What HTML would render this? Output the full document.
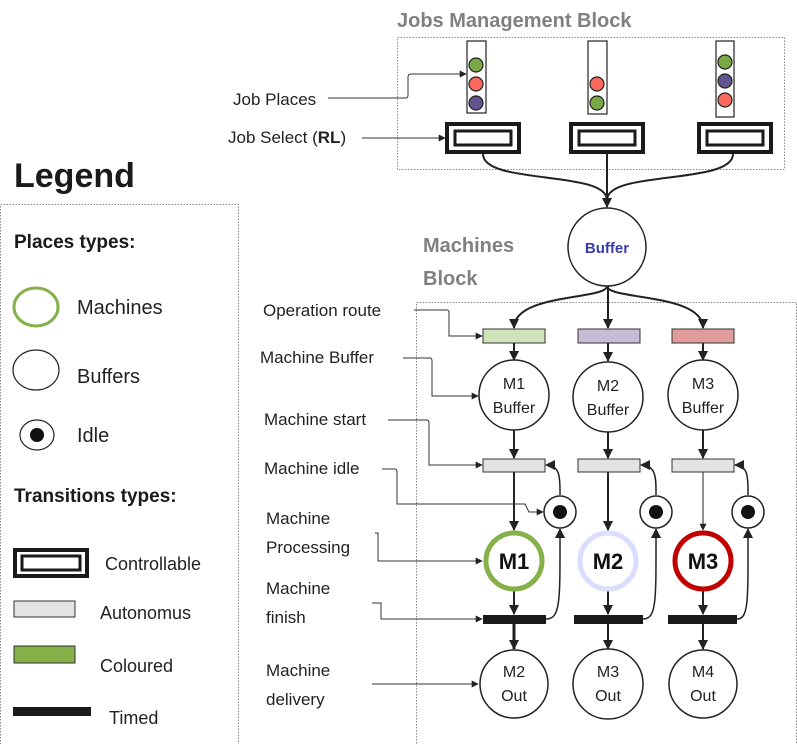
<!DOCTYPE html>
<html><head><meta charset="utf-8"><style>
html,body{margin:0;padding:0;background:#fff}
svg{display:block}
text{font-family:"Liberation Sans",sans-serif;}
</style></head><body>
<svg width="797" height="744" viewBox="0 0 797 744" xmlns="http://www.w3.org/2000/svg">
<defs>
<marker id="a" viewBox="0 0 10 10" refX="9" refY="5" markerUnits="userSpaceOnUse" markerWidth="10" markerHeight="10" orient="auto"><path d="M0,0L10,5L0,10z" fill="#222"/></marker>
<marker id="s" viewBox="0 0 10 10" refX="9" refY="5" markerUnits="userSpaceOnUse" markerWidth="7" markerHeight="7" orient="auto"><path d="M0,0L10,5L0,10z" fill="#222"/></marker>
</defs>
<!-- Jobs block -->
<text x="397" y="27" font-size="20" font-weight="bold" fill="#808080">Jobs Management Block</text>
<rect x="397.5" y="37.5" width="387" height="132" fill="none" stroke="#888" stroke-dasharray="1.5,1.5"/>
<g stroke="#222" stroke-width="1.2">
<rect x="467" y="41" width="19" height="72" fill="#fff"/>
<rect x="588" y="41" width="19" height="73" fill="#fff"/>
<rect x="716" y="41" width="18" height="76" fill="#fff"/>
<circle cx="476" cy="65" r="7" fill="#7aa844"/><circle cx="476" cy="84" r="7" fill="#fa6a5c"/><circle cx="476" cy="103" r="7" fill="#62558f"/>
<circle cx="597" cy="84" r="7" fill="#fa6a5c"/><circle cx="597" cy="103" r="7" fill="#7aa844"/>
<circle cx="725" cy="62" r="7" fill="#7aa844"/><circle cx="725" cy="81" r="7" fill="#62558f"/><circle cx="725" cy="100" r="7" fill="#fa6a5c"/>
</g>
<g fill="#fff" stroke="#1a1a1a">
<rect x="447" y="124" width="72" height="28" stroke-width="4"/><rect x="455" y="131" width="56" height="14" stroke-width="3"/>
<rect x="571" y="124" width="72" height="28" stroke-width="4"/><rect x="579" y="131" width="56" height="14" stroke-width="3"/>
<rect x="699" y="124" width="72" height="28" stroke-width="4"/><rect x="707" y="131" width="56" height="14" stroke-width="3"/>
</g>
<g fill="none" stroke="#222" stroke-width="2">
<path d="M483,154 C483,185 607,170 607,200" />
<path d="M733,154 C733,185 607,170 607,200" />
<path d="M607,154 L607,207" marker-end="url(#a)"/>
</g>
<circle cx="607" cy="247" r="39" fill="#fff" stroke="#222" stroke-width="1.5"/>
<text x="607" y="253" font-size="15" font-weight="bold" fill="#3b3bb0" text-anchor="middle">Buffer</text>
<text x="423" y="252" font-size="20" font-weight="bold" fill="#808080">Machines</text>
<text x="423" y="285" font-size="20" font-weight="bold" fill="#808080">Block</text>
<rect x="416.5" y="302.5" width="380" height="445" fill="none" stroke="#888" stroke-dasharray="1.5,1.5"/>
<g fill="none" stroke="#222" stroke-width="2">
<path d="M607,286 C607,300 514,293 514,328" marker-end="url(#a)"/>
<path d="M607,286 C607,300 703,293 703,328" marker-end="url(#a)"/>
<path d="M608,286 L608,328" marker-end="url(#a)"/>
</g>
<!-- colored transitions -->
<rect x="483" y="329" width="62" height="14" fill="#cfe2b8" stroke="#333"/>
<rect x="578" y="329" width="62" height="14" fill="#c5bcd6" stroke="#333"/>
<rect x="672" y="329" width="62" height="14" fill="#e29b9b" stroke="#333"/>
<g fill="none" stroke="#222" stroke-width="2">
<path d="M514,343 L514,360" marker-end="url(#a)"/>
<path d="M608,343 L608,361" marker-end="url(#a)"/>
<path d="M703,343 L703,360" marker-end="url(#a)"/>
<path d="M514,430 L514,458" marker-end="url(#a)"/>
<path d="M608,432 L608,458" marker-end="url(#a)"/>
<path d="M703,430 L703,458" marker-end="url(#a)"/>
<path d="M514,472 L514,530" marker-end="url(#a)"/>
<path d="M608,472 L608,530" marker-end="url(#a)"/>
<path d="M703,472 L703,530" stroke-width="1" marker-end="url(#s)"/>
<path d="M514,591 L514,614" marker-end="url(#a)"/>
<path d="M608,591 L608,614" marker-end="url(#a)"/>
<path d="M703,591 L703,614" marker-end="url(#a)"/>
<path d="M514,624 L514,649" stroke-width="3" marker-end="url(#a)"/>
<path d="M608,624 L608,649" marker-end="url(#a)"/>
<path d="M703,624 L703,649" marker-end="url(#a)"/>
</g>
<g fill="none" stroke="#222" stroke-width="1.5">
<path d="M546,619 C561,619 560,600 560,529" marker-end="url(#a)"/>
<path d="M643,619 C657,619 656,600 656,529" marker-end="url(#a)"/>
<path d="M737,619 C749,619 748,600 748,529" marker-end="url(#a)"/>
<path d="M560,495 C560,480 561,465 546,465" marker-end="url(#a)"/>
<path d="M656,495 C656,480 657,465 641,465" marker-end="url(#a)"/>
<path d="M748,495 C748,480 749,465 735,465" marker-end="url(#a)"/>
</g>
<g fill="#fff" stroke="#222" stroke-width="1.5">
<circle cx="514" cy="395" r="35"/><circle cx="608" cy="397" r="35"/><circle cx="703" cy="395" r="35"/>
<circle cx="514" cy="684" r="34"/><circle cx="608" cy="684" r="35"/><circle cx="703" cy="684" r="34"/>
<circle cx="560" cy="512" r="16"/><circle cx="656" cy="512" r="16"/><circle cx="748" cy="512" r="16"/>
</g>
<circle cx="560" cy="512" r="7" fill="#111"/><circle cx="656" cy="512" r="7" fill="#111"/><circle cx="748" cy="512" r="7" fill="#111"/>
<g font-size="16" fill="#222" text-anchor="middle">
<text x="514" y="389">M1</text><text x="514" y="413">Buffer</text>
<text x="608" y="391">M2</text><text x="608" y="415">Buffer</text>
<text x="703" y="389">M3</text><text x="703" y="413">Buffer</text>
<text x="514" y="677">M2</text><text x="514" y="701">Out</text>
<text x="608" y="677">M3</text><text x="608" y="701">Out</text>
<text x="703" y="677">M4</text><text x="703" y="701">Out</text>
</g>
<rect x="483" y="459" width="62" height="13" fill="#e3e3e3" stroke="#333"/>
<rect x="578" y="459" width="62" height="13" fill="#e3e3e3" stroke="#333"/>
<rect x="672" y="459" width="62" height="13" fill="#e3e3e3" stroke="#333"/>
<circle cx="514" cy="561" r="28" fill="#fff" stroke="#86b04a" stroke-width="5"/>
<circle cx="608" cy="561" r="28" fill="#fff" stroke="#dcdcff" stroke-width="5"/>
<circle cx="703" cy="561" r="28" fill="#fff" stroke="#c00000" stroke-width="5"/>
<g font-size="22" font-weight="bold" fill="#111" text-anchor="middle">
<text x="514" y="569">M1</text><text x="608" y="569">M2</text><text x="703" y="569">M3</text>
</g>
<rect x="483" y="615" width="63" height="9" fill="#1a1a1a"/>
<rect x="574" y="615" width="69" height="9" fill="#1a1a1a"/>
<rect x="668" y="615" width="69" height="9" fill="#1a1a1a"/>
<!-- annotation labels -->
<g font-size="17" fill="#222">
<text x="233" y="105">Job Places</text>
<text x="228" y="143">Job Select (<tspan font-weight="bold">RL</tspan>)</text>
<text x="263" y="316">Operation route</text>
<text x="260" y="363">Machine Buffer</text>
<text x="264" y="425">Machine start</text>
<text x="264" y="474">Machine idle</text>
<text x="266" y="524">Machine</text><text x="266" y="553">Processing</text>
<text x="266" y="594">Machine</text><text x="266" y="623">finish</text>
<text x="266" y="676">Machine</text><text x="266" y="705">delivery</text>
</g>
<g fill="none" stroke="#333" stroke-width="1">
<path d="M328,98 L406,98 Q408,98 408,95 L408,77 Q408,74 411,74 L466,74" marker-end="url(#s)"/>
<path d="M362,138 L445,138" marker-end="url(#s)"/>
<path d="M414,310 L447,310 Q449,310 449,313 L449,336 L482,336" marker-end="url(#s)"/>
<path d="M403,358 L430,358 Q432,358 432,361 L432,396 L478,396" marker-end="url(#s)"/>
<path d="M388,420 L427,420 Q429,420 429,423 L429,465 L482,465" marker-end="url(#s)"/>
<path d="M382,469 L395,469 Q397,469 397,472 L397,504 L525,504 L529,512 L543,512" marker-end="url(#s)"/>
<path d="M375,533 L378,533 L378,561 L482,561" marker-end="url(#s)"/>
<path d="M372,603 L381,603 L381,619 L482,619" marker-end="url(#s)"/>
<path d="M372,684 L478,684" marker-end="url(#s)"/>
</g>
<!-- Legend -->
<text x="14" y="187" font-size="34" font-weight="bold" fill="#1a1a1a">Legend</text>
<rect x="0.5" y="204.5" width="238" height="545" fill="none" stroke="#888" stroke-dasharray="1.5,1.5"/>
<text x="14" y="248" font-size="19" font-weight="bold" fill="#1a1a1a">Places types:</text>
<ellipse cx="36" cy="307" rx="22" ry="19" fill="#fff" stroke="#86b04a" stroke-width="3"/>
<text x="77" y="314" font-size="20" fill="#222">Machines</text>
<ellipse cx="36" cy="370" rx="23" ry="20" fill="#fff" stroke="#222" stroke-width="1.2"/>
<text x="77" y="383" font-size="20" fill="#222">Buffers</text>
<ellipse cx="37" cy="435" rx="17" ry="15" fill="#fff" stroke="#222" stroke-width="1.2"/>
<circle cx="37" cy="435" r="7" fill="#111"/>
<text x="77" y="442" font-size="20" fill="#222">Idle</text>
<text x="14" y="502" font-size="19" font-weight="bold" fill="#1a1a1a">Transitions types:</text>
<rect x="15" y="550" width="72" height="26" fill="#fff" stroke="#1a1a1a" stroke-width="4"/>
<rect x="22" y="556" width="58" height="14" fill="#fff" stroke="#1a1a1a" stroke-width="3"/>
<text x="105" y="570" font-size="18" fill="#222">Controllable</text>
<rect x="14" y="601" width="61" height="16" fill="#e3e3e3" stroke="#333"/>
<text x="100" y="619" font-size="18" fill="#222">Autonomus</text>
<rect x="14" y="646" width="61" height="17" fill="#86b04a" stroke="#333"/>
<text x="100" y="672" font-size="18" fill="#222">Coloured</text>
<rect x="13" y="707" width="78" height="9" fill="#1a1a1a"/>
<text x="109" y="724" font-size="18" fill="#222">Timed</text>
</svg>
</body></html>
